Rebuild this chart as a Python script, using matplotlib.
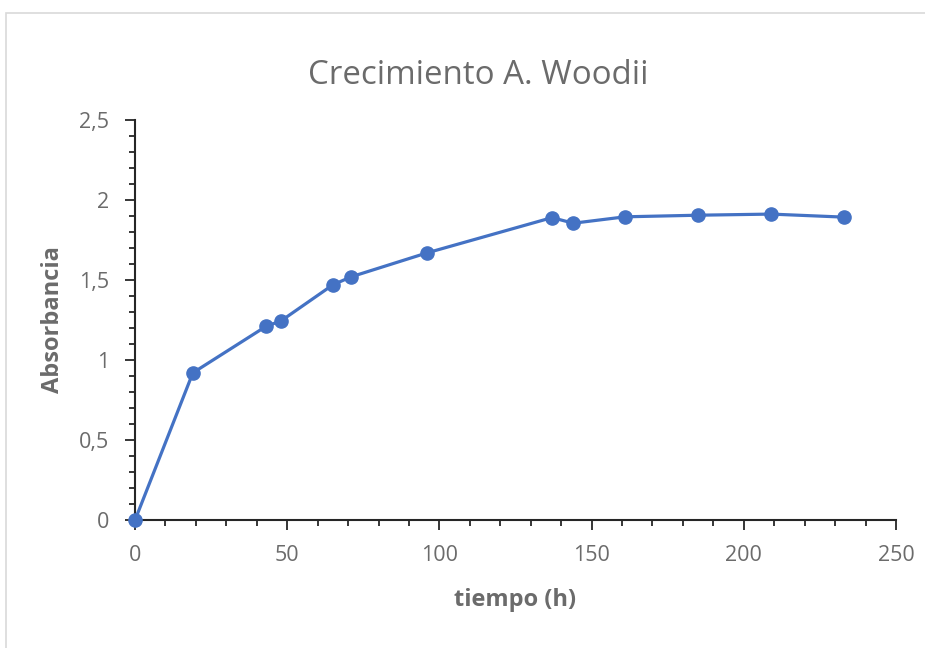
import matplotlib.pyplot as plt
from matplotlib.patches import Rectangle
from matplotlib.ticker import MultipleLocator, FuncFormatter

# datos
tiempo = [0, 19, 43, 48, 65, 71, 96, 137, 144, 161, 185, 209, 233]
absorbancia = [0, 0.92, 1.21, 1.245, 1.47, 1.52, 1.67, 1.89, 1.855, 1.895, 1.905, 1.912, 1.893]

gris = '#6b6b6b'
plt.rcParams['font.family'] = ['Open Sans', 'DejaVu Sans']

fig = plt.figure(figsize=(9.25, 6.48), dpi=100)
ax = fig.add_axes([0.146, 0.1975, 0.8226, 0.6173])

# borde del area del grafico
fig.patches.append(Rectangle((6 / 925, -0.1), 1.1, 1 - 13 / 648 + 0.1, transform=fig.transFigure,
                             fill=False, edgecolor='#d9d9d9', linewidth=1.2))

ax.plot(tiempo, absorbancia, color='#4472C4', linewidth=2.3, marker='o', markersize=9.5, clip_on=False, zorder=3)

ax.set_xlim(0, 250)
ax.set_ylim(0, 2.5)
ax.xaxis.set_major_locator(MultipleLocator(50))
ax.xaxis.set_minor_locator(MultipleLocator(10))
ax.yaxis.set_major_locator(MultipleLocator(0.5))
ax.yaxis.set_minor_locator(MultipleLocator(0.1))
ax.yaxis.set_major_formatter(FuncFormatter(lambda v, p: f'{v:g}'.replace('.', ',')))

for s in ['top', 'right']:
    ax.spines[s].set_visible(False)
for s in ['left', 'bottom']:
    ax.spines[s].set_color('#262626')
    ax.spines[s].set_linewidth(1.5)

ax.tick_params(which='major', length=7, width=1.3, color='#262626', labelsize=15.5, labelcolor=gris)
ax.tick_params(which='minor', length=4, width=1.3, color='#262626')
ax.tick_params(axis='x', which='major', pad=11)
ax.tick_params(axis='y', which='major', pad=11.5)

# titulo centrado en el area del grafico
fig.text(478 / 925, 1 - 75 / 648, 'Crecimiento A. Woodii', fontsize=23.8, color=gris, ha='center', va='center')
ax.set_xlabel('tiempo (h)', fontsize=17, fontweight='bold', color=gris, labelpad=15.5)
ax.set_ylabel('Absorbancia', fontsize=17, fontweight='bold', color=gris, labelpad=10)

plt.savefig('out.png', dpi=100)
